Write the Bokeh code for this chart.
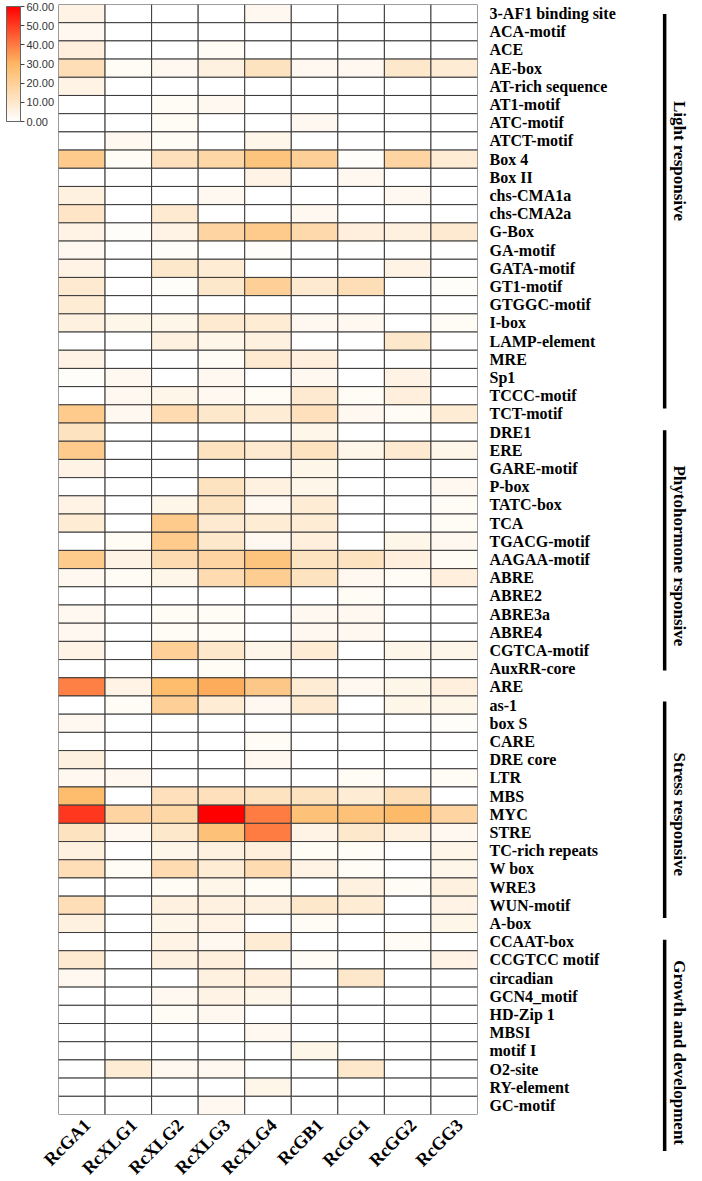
import math
from bokeh.plotting import figure
from bokeh.models import (FactorRange, LinearColorMapper, ColorBar, FixedTicker,
                          PrintfTickFormatter, ColumnDataSource)
from bokeh.transform import transform
from bokeh.core.properties import value
from bokeh.embed import file_html
from bokeh.resources import INLINE

# ---------------- data ----------------
genes = ["RcGA1", "RcXLG1", "RcXLG2", "RcXLG3", "RcXLG4", "RcGB1", "RcGG1", "RcGG2", "RcGG3"]

motifs = ["3-AF1 binding site", "ACA-motif", "ACE", "AE-box", "AT-rich sequence", "AT1-motif",
          "ATC-motif", "ATCT-motif", "Box 4", "Box II", "chs-CMA1a", "chs-CMA2a", "G-Box",
          "GA-motif", "GATA-motif", "GT1-motif", "GTGGC-motif", "I-box", "LAMP-element", "MRE",
          "Sp1", "TCCC-motif", "TCT-motif", "DRE1", "ERE", "GARE-motif", "P-box", "TATC-box",
          "TCA", "TGACG-motif", "AAGAA-motif", "ABRE", "ABRE2", "ABRE3a", "ABRE4", "CGTCA-motif",
          "AuxRR-core", "ARE", "as-1", "box S", "CARE", "DRE core", "LTR", "MBS", "MYC", "STRE",
          "TC-rich repeats", "W box", "WRE3", "WUN-motif", "A-box", "CCAAT-box", "CCGTCC motif",
          "circadian", "GCN4_motif", "HD-Zip 1", "MBSI", "motif I", "O2-site", "RY-element",
          "GC-motif"]

RcGA1 = [5, 3, 7, 14, 5, 0, 0, 0, 22, 0, 6, 11, 5, 3, 5, 9, 8, 6, 0, 5,
         1, 0, 22, 12, 22, 5, 0, 5, 8, 0, 22, 3, 0, 3, 3, 5, 0, 39, 0, 3,
         0, 6, 3, 28, 51, 12, 6, 14, 0, 14, 6, 0, 9, 3, 0, 0, 0, 0, 0, 0, 0]
RcXLG1 = [0, 0, 0, 2, 0, 0, 0, 3, 2, 0, 0, 0, 1, 0, 0, 0, 0, 4, 0, 0,
          3, 3, 3, 0, 0, 0, 0, 0, 0, 2, 5, 2, 0, 0, 0, 0, 0, 5, 2, 0,
          0, 0, 3, 0, 18, 3, 0, 2, 0, 0, 0, 0, 0, 0, 0, 0, 0, 0, 8, 0, 0]
RcXLG2 = [0, 0, 0, 3, 0, 2, 2, 2, 13, 0, 0, 9, 5, 1, 10, 1, 0, 4, 6, 0,
          0, 4, 15, 0, 0, 0, 0, 4, 22, 22, 15, 4, 0, 2, 2, 20, 0, 28, 20, 0,
          0, 0, 0, 13, 17, 10, 4, 15, 2, 6, 4, 5, 6, 0, 3, 2, 0, 0, 3, 0, 0]
RcXLG3 = [0, 0, 2, 6, 0, 3, 0, 0, 17, 0, 3, 0, 18, 0, 8, 10, 0, 9, 4, 2,
          3, 3, 10, 0, 12, 0, 12, 12, 9, 10, 18, 15, 0, 2, 2, 10, 2, 32, 8, 0,
          0, 0, 0, 13, 60, 26, 6, 8, 4, 6, 5, 3, 7, 6, 5, 3, 0, 0, 3, 0, 3]
RcXLG4 = [3, 0, 0, 12, 0, 0, 0, 4, 25, 5, 0, 0, 22, 1, 0, 20, 0, 8, 6, 9,
          0, 2, 8, 0, 9, 0, 6, 3, 8, 3, 25, 21, 0, 0, 0, 4, 0, 23, 3, 0,
          2, 3, 0, 12, 40, 40, 7, 15, 2, 6, 0, 8, 0, 7, 4, 0, 3, 0, 0, 4, 0]
RcGB1 = [0, 0, 0, 3, 0, 0, 3, 0, 20, 0, 0, 3, 16, 0, 0, 9, 0, 3, 0, 7,
         3, 9, 13, 4, 12, 4, 4, 8, 8, 7, 12, 12, 0, 3, 3, 8, 0, 8, 9, 0,
         0, 0, 0, 12, 26, 5, 2, 5, 0, 10, 2, 0, 2, 0, 0, 0, 0, 4, 0, 0, 0]
RcGG1 = [0, 0, 0, 3, 0, 0, 0, 0, 1, 3, 0, 0, 7, 0, 0, 14, 0, 3, 0, 0,
         0, 2, 3, 0, 4, 0, 0, 0, 0, 0, 12, 3, 2, 3, 3, 0, 0, 3, 0, 0,
         0, 0, 2, 8, 26, 10, 2, 2, 6, 8, 0, 0, 0, 10, 0, 0, 0, 0, 10, 0, 0]
RcGG2 = [0, 0, 0, 10, 0, 0, 0, 0, 18, 0, 3, 0, 6, 0, 5, 0, 0, 0, 10, 0,
         5, 7, 2, 0, 9, 0, 0, 0, 0, 4, 7, 2, 0, 0, 0, 4, 0, 4, 4, 0,
         0, 0, 0, 14, 29, 6, 0, 0, 2, 0, 0, 2, 0, 0, 0, 0, 0, 0, 0, 0, 0]
RcGG3 = [0, 0, 0, 8, 0, 0, 0, 0, 8, 0, 0, 0, 9, 0, 0, 1, 0, 2, 0, 0,
         0, 0, 8, 0, 4, 0, 3, 2, 2, 3, 2, 7, 0, 0, 0, 4, 0, 7, 4, 1,
         0, 0, 2, 0, 18, 3, 4, 4, 6, 5, 4, 0, 5, 0, 0, 0, 0, 0, 0, 0, 0]

series = [RcGA1, RcXLG1, RcXLG2, RcXLG3, RcXLG4, RcGB1, RcGG1, RcGG2, RcGG3]

scale_ticks = [0, 10, 20, 30, 40, 50, 60]

groups = ["Light responsive", "Phytohormone rsponsive", "Stress responsive",
          "Growth and development"]
group_first = ["3-AF1 binding site", "DRE1", "as-1", "A-box"]
group_last = ["TCT-motif", "AuxRR-core", "WUN-motif", "GC-motif"]

# ---------------- layout / style ----------------
FRAME_W, FRAME_H = 419, 1110
LEFT, TOP, RIGHT, BOTTOM = 58, 4, 223, 67

bar_inset_top = [0.52, 0.4, 0.3, 1.4]       # rows
bar_inset_bottom = [0.8, 0.4, -0.2, -2.0]   # rows (negative = extends below)
text_shift = [-2.9, 0.3, 0.5, 2.1]          # rows, relative to group centre
bar_x_off = 4.02     # columns beyond the last column edge
text_x_off = 4.34
xlab_dx, xlab_dy = 0.12, 0.42               # column-label anchor offsets

serif = "Liberation Serif"

# palette white -> orange -> red
def _interp(stops, n=256):
    out = []
    for i in range(n):
        t = i / (n - 1)
        for (t0, c0), (t1, c1) in zip(stops[:-1], stops[1:]):
            if t0 <= t <= t1:
                f = (t - t0) / (t1 - t0)
                c = [round(a + (b - a) * f) for a, b in zip(c0, c1)]
                out.append("#%02x%02x%02x" % tuple(c))
                break
    return out

palette = _interp([(0.0, (255, 255, 255)), (0.5, (253, 184, 99)), (1.0, (255, 0, 0))])
mapper = LinearColorMapper(palette=palette, low=scale_ticks[0], high=scale_ticks[-1])

xs, ys, vs = [], [], []
for g, col in zip(genes, series):
    for m, v in zip(motifs, col):
        xs.append(g)
        ys.append(m)
        vs.append(v)
src = ColumnDataSource(dict(x=xs, y=ys, v=vs))

n_rows = len(motifs)
n_cols = len(genes)

p = figure(x_range=FactorRange(factors=genes), y_range=FactorRange(factors=motifs[::-1]),
           frame_width=FRAME_W, frame_height=FRAME_H,
           min_border_left=LEFT, min_border_right=RIGHT,
           min_border_top=TOP, min_border_bottom=BOTTOM, y_axis_location="right",
           output_backend="svg", toolbar_location=None)

p.rect(x="x", y="y", width=1, height=1, source=src,
       fill_color=transform("v", mapper), line_color="#3a3a3a", line_width=1)

p.grid.visible = False
p.outline_line_color = None
p.background_fill_color = "white"

# column names (rotated) drawn below the grid through the categorical scale
p.xaxis.visible = False
lab_x = [genes.index(g) + 0.5 + xlab_dx for g in genes]
lab_y = [-xlab_dy] * n_cols
p.text(x=lab_x, y=lab_y, text=genes, angle=math.pi / 4, text_align="right",
       text_baseline="middle", text_font=value(serif), text_font_style="bold",
       text_font_size="18px", text_color="black", level="overlay")

ya = p.yaxis[0]
ya.major_label_text_font = serif
ya.major_label_text_font_style = "bold"
ya.major_label_text_font_size = "16px"
ya.major_label_text_color = "black"
ya.axis_line_color = None
ya.major_tick_line_color = None
ya.minor_tick_line_color = None
ya.major_label_standoff = 6

CB_H = 115
cb = ColorBar(color_mapper=mapper, ticker=FixedTicker(ticks=scale_ticks),
              formatter=PrintfTickFormatter(format="%.2f"), width=14, height=CB_H,
              location=(-52, FRAME_H - CB_H - 2), orientation="vertical", padding=0,
              margin=0, label_standoff=2, major_label_text_font="Liberation Sans",
              major_label_text_font_size="11px", major_label_text_color="#333333",
              major_tick_out=4, major_tick_in=0, major_tick_line_color="#444444",
              bar_line_color="#666666", border_line_color=None,
              background_fill_color=None)
p.add_layout(cb, "center")

# group brackets and names (synthetic coordinates: row r from top -> n_rows - r)
bx0, by0, bx1, by1, tx, ty = [], [], [], [], [], []
for i, g in enumerate(groups):
    r0 = motifs.index(group_first[i])
    r1 = motifs.index(group_last[i]) + 1
    top = r0 + bar_inset_top[i]
    bot = r1 - bar_inset_bottom[i]
    bx0.append(n_cols + bar_x_off)
    bx1.append(n_cols + bar_x_off)
    by0.append(n_rows - top)
    by1.append(n_rows - bot)
    tx.append(n_cols + text_x_off)
    ty.append(n_rows - ((r0 + r1) / 2 + text_shift[i]))

p.segment(x0=bx0, y0=by0, x1=bx1, y1=by1, line_color="black", line_width=3.5,
          level="overlay")
p.text(x=tx, y=ty, text=groups, angle=-math.pi / 2, text_align="center",
       text_baseline="middle", text_font=value(serif), text_font_style="bold",
       text_font_size="17px", text_color="black", level="overlay")

open("out.html", "w").write(file_html(p, INLINE))
